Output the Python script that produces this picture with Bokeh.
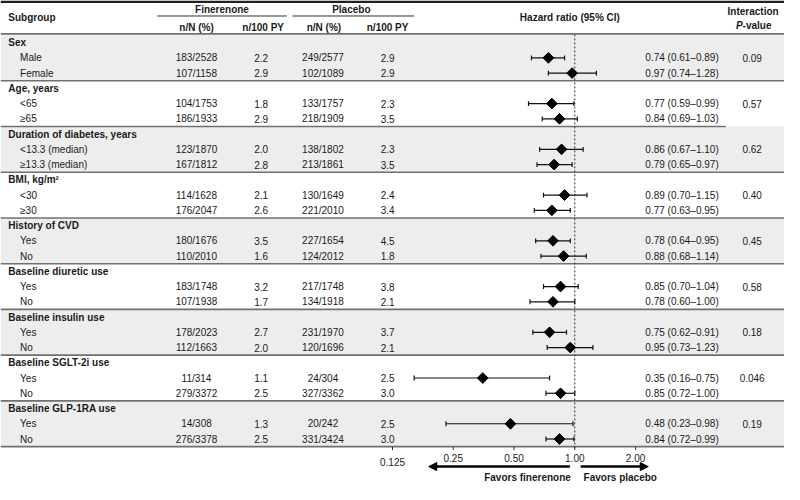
import numpy as np
from bokeh.plotting import figure
from bokeh.models import ColumnDataSource, Range1d, LogScale, Arrow, NormalHead
from bokeh.core.properties import value
from bokeh.embed import file_html
from bokeh.resources import INLINE

# ---------------- data ----------------
groups = ["Sex", "Age, years", "Duration of diabetes, years", "BMI, kg/m²",
          "History of CVD", "Baseline diuretic use", "Baseline insulin use",
          "Baseline SGLT-2i use", "Baseline GLP-1RA use"]
subgroups = [["Male", "Female"], ["<65", "≥65"], ["<13.3 (median)", "≥13.3 (median)"],
             ["<30", "≥30"], ["Yes", "No"], ["Yes", "No"], ["Yes", "No"], ["Yes", "No"], ["Yes", "No"]]
fin_nN = ["183/2528", "107/1158", "104/1753", "186/1933", "123/1870", "167/1812",
          "114/1628", "176/2047", "180/1676", "110/2010", "183/1748", "107/1938",
          "178/2023", "112/1663", "11/314", "279/3372", "14/308", "276/3378"]
fin_py = ["2.2", "2.9", "1.8", "2.9", "2.0", "2.8", "2.1", "2.6", "3.5", "1.6",
          "3.2", "1.7", "2.7", "2.0", "1.1", "2.5", "1.3", "2.5"]
pla_nN = ["249/2577", "102/1089", "133/1757", "218/1909", "138/1802", "213/1861",
          "130/1649", "221/2010", "227/1654", "124/2012", "217/1748", "134/1918",
          "231/1970", "120/1696", "24/304", "327/3362", "20/242", "331/3424"]
pla_py = ["2.9", "2.9", "2.3", "3.5", "2.3", "3.5", "2.4", "3.4", "4.5", "1.8",
          "3.8", "2.1", "3.7", "2.1", "2.5", "3.0", "2.5", "3.0"]
hr = [0.74, 0.97, 0.77, 0.84, 0.86, 0.79, 0.89, 0.77, 0.78, 0.88,
      0.85, 0.78, 0.75, 0.95, 0.35, 0.85, 0.48, 0.84]
ci_lo = [0.61, 0.74, 0.59, 0.69, 0.67, 0.65, 0.70, 0.63, 0.64, 0.68,
         0.70, 0.60, 0.62, 0.73, 0.16, 0.72, 0.23, 0.72]
ci_hi = [0.89, 1.28, 0.99, 1.03, 1.10, 0.97, 1.15, 0.95, 0.95, 1.14,
         1.04, 1.00, 0.91, 1.23, 0.75, 1.00, 0.98, 0.99]
p_values = ["0.09", "0.57", "0.62", "0.40", "0.45", "0.58", "0.18", "0.046", "0.19"]
tick_values = [0.125, 0.25, 0.5, 1.0, 2.0]
tick_labels = ["0.125", "0.25", "0.50", "1.00", "2.00"]

# ---------------- layout constants (reference pixel space) ----------------
W, H = 800, 500
ROW0, RH = 43.5, 15.75
X_ONE, PX_PER_DOUBLING = 586.0, 62.0
FONT = value("Liberation Sans")
TXT = "#1a1a1a"
FS = "10px"

def row_y(i):
    return ROW0 + i * RH

p = figure(width=784, height=484, output_backend="svg", toolbar_location=None,
           x_range=Range1d(0, W), y_range=Range1d(H, 0),
           x_axis_location=None, y_axis_location=None, min_border=0)
p.grid.visible = False
p.outline_line_color = None
p.background_fill_color = "white"

lo_hr = 2 ** ((0 - X_ONE) / PX_PER_DOUBLING)
hi_hr = 2 ** ((W - X_ONE) / PX_PER_DOUBLING)
p.extra_x_ranges = {"hr": Range1d(lo_hr, hi_hr)}
p.extra_x_scales = {"hr": LogScale()}

# ---------------- build rows ----------------
label_x, label_y, label_txt, label_bold = [], [], [], []
sub_rows = []  # y of each subgroup row
band_top, band_bot = [], []
sep_y, sep_x1 = [], []
p_y = []
r = 0
for g, (gname, subs) in enumerate(zip(groups, subgroups)):
    top = row_y(r) - RH / 2
    label_x.append(8); label_y.append(row_y(r)); label_txt.append(gname); label_bold.append(True)
    r += 1
    for k, s in enumerate(subs):
        label_x.append(20); label_y.append(row_y(r)); label_txt.append(s); label_bold.append(False)
        sub_rows.append(row_y(r))
        if k == 0:
            p_y.append(row_y(r))
        r += 1
    bot = row_y(r - 1) + RH / 2
    if g % 2 == 0:
        band_top.append(top); band_bot.append(bot)
    sep_y.append(bot)
    sep_x1.append(740 if g == 1 else W)

# bands
p.quad(left=0, right=W, top=band_top, bottom=band_bot, fill_color="#ededed", line_color=None)

# separators
p.segment(x0=0, x1=sep_x1, y0=sep_y, y1=sep_y, line_color="#707070", line_width=1.6)
# header lines
p.segment(x0=[0], x1=[W], y0=[1.2], y1=[1.2], line_color="#202020", line_width=2.5)
p.segment(x0=[0], x1=[W], y0=[34.5], y1=[34.5], line_color="#707070", line_width=1.6)
p.segment(x0=[160, 298], x1=[292, 422], y0=[16, 16], y1=[16, 16], line_color="#303030", line_width=1)

# header texts
hdr = ColumnDataSource(dict(
    x=[8, 226, 358, 200, 268, 330, 395, 581, 768],
    y=[18, 9.5, 9.5, 27.5, 27.5, 27.5, 27.5, 18, 11],
    t=["Subgroup", "Finerenone", "Placebo", "n/N (%)", "n/100 PY", "n/N (%)", "n/100 PY",
       "Hazard ratio (95% CI)", "Interaction"],
    a=["left", "center", "center", "center", "center", "center", "center", "center", "center"]))
p.text(x="x", y="y", text="t", text_align="a", source=hdr, text_font=FONT, text_font_size=FS,
       text_font_style="bold", text_baseline="middle", text_color=TXT)
p.text(x=[750.5], y=[25.5], text=["P"], text_font=FONT, text_font_size=FS,
       text_font_style="bold italic", text_baseline="middle", text_color=TXT)
p.text(x=[757.2], y=[25.5], text=["-value"], text_font=FONT, text_font_size=FS,
       text_font_style="bold", text_baseline="middle", text_color=TXT)

# labels
lab = ColumnDataSource(dict(x=label_x, y=label_y, t=label_txt,
                            s=["bold" if b else "normal" for b in label_bold]))
p.text(x="x", y="y", text="t", text_font_style="s", source=lab, text_font=FONT,
       text_font_size=FS, text_baseline="middle", text_color=TXT)

# table columns
ci_txt = [f"{h:.2f} ({l:.2f}–{u:.2f})" for h, l, u in zip(hr, ci_lo, ci_hi)]
tab = ColumnDataSource(dict(y=sub_rows, a=fin_nN, b=fin_py, c=pla_nN, d=pla_py, ci=ci_txt,
                            hr=hr, lo=ci_lo, hi=ci_hi,
                            ycap0=[v - 2.5 for v in sub_rows], ycap1=[v + 2.5 for v in sub_rows]))
for col, xc in [("a", 200), ("b", 266), ("c", 329), ("d", 395)]:
    p.text(x=xc, y="y", text=col, source=tab, text_align="center", text_font=FONT,
           text_font_size=FS, text_baseline="middle", text_color=TXT)
p.text(x=658, y="y", text="ci", source=tab, text_align="left", text_font=FONT,
       text_font_size=FS, text_baseline="middle", text_color=TXT)
p.text(x=767, y=p_y, text=p_values, text_align="center", text_font=FONT,
       text_font_size=FS, text_baseline="middle", text_color=TXT)

# reference line at HR = 1
p.segment(x0=[1.0], x1=[1.0], y0=[35], y1=[462], x_range_name="hr",
          line_color="#303030", line_width=1, line_dash="2 2")

# forest marks
p.segment(x0="lo", x1="hi", y0="y", y1="y", source=tab, x_range_name="hr",
          line_color="#111111", line_width=1.2)
p.segment(x0="lo", x1="lo", y0="ycap0", y1="ycap1", source=tab, x_range_name="hr",
          line_color="#111111", line_width=1.2)
p.segment(x0="hi", x1="hi", y0="ycap0", y1="ycap1", source=tab, x_range_name="hr",
          line_color="#111111", line_width=1.2)
p.scatter(x="hr", y="y", source=tab, x_range_name="hr", marker="square", angle=np.pi / 4,
          size=7.6, fill_color="black", line_color="black")

# axis ticks and labels
p.segment(x0=tick_values, x1=tick_values, y0=461, y1=464.5, x_range_name="hr",
          line_color="#303030", line_width=1)
tick_y = [477] + [472.5] * (len(tick_values) - 1)
p.text(x=tick_values, y=tick_y, text=tick_labels, x_range_name="hr", text_align="center",
       text_font=FONT, text_font_size=FS, text_baseline="middle", text_color=TXT)

# favors arrows
p.add_layout(Arrow(end=NormalHead(size=8, fill_color="black", line_color="black"),
                   x_start=581, y_start=481.5, x_end=437, y_end=481.5,
                   line_width=2.5, line_color="black"))
p.add_layout(Arrow(end=NormalHead(size=8, fill_color="black", line_color="black"),
                   x_start=592, y_start=481.5, x_end=661, y_end=481.5,
                   line_width=2.5, line_color="black"))
p.text(x=[582, 595], y=[492.5, 492.5], text=["Favors finerenone", "Favors placebo"],
       text_align=["right", "left"], text_font=FONT, text_font_size=FS,
       text_font_style="bold", text_baseline="middle", text_color=TXT)

open("out.html", "w").write(file_html(p, INLINE))
